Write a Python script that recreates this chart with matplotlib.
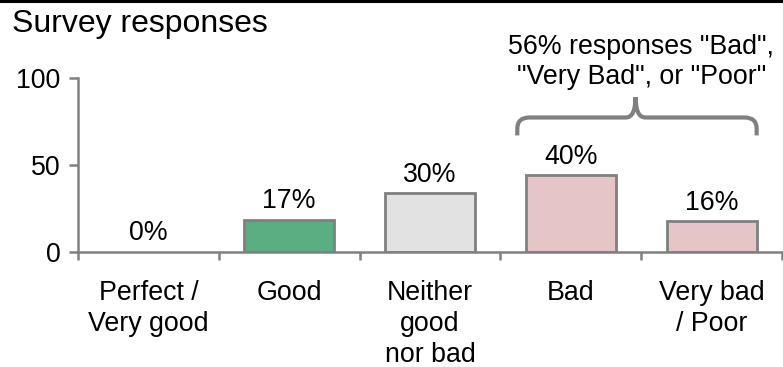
import numpy as np
import matplotlib
matplotlib.use('Agg')
import matplotlib.pyplot as plt
from matplotlib.path import Path
from matplotlib.patches import PathPatch
from matplotlib.lines import Line2D

plt.rcParams['font.family'] = ['Liberation Sans', 'DejaVu Sans']

# datos
categorias = ['Perfect /\nVery good', 'Good', 'Neither\ngood\nnor bad', 'Bad', 'Very bad\n/ Poor']
alturas = [0, 18.6, 33.7, 44.2, 17.6]
etiquetas = ['0%', '17%', '30%', '40%', '16%']
colores = ['#e2e2e2', '#5aae82', '#e2e2e2', '#e6c5c7', '#e6c5c7']
nota = '56% responses "Bad",\n"Very Bad", or "Poor"'
titulo = 'Survey responses'

gris = '#808080'
W, H = 783, 367
fs = 19.3

fig = plt.figure(figsize=(W/100, H/100), dpi=100)
ax = fig.add_axes([78/W, 1-252/H, (782-78)/W, (252-78)/H])

x = np.arange(len(categorias))
bordes = [2 if h > 0 else 0 for h in alturas]
barras = ax.bar(x, alturas, width=0.64, color=colores, edgecolor=gris, linewidth=bordes, zorder=2)
for xi, h, et in zip(x, alturas, etiquetas):
    ax.annotate(et, (xi, h), xytext=(0, 4), textcoords='offset points',
                ha='center', va='bottom', fontsize=fs)

ax.set_xlim(-0.5, 4.5)
ax.set_ylim(0, 100)
ax.set_yticks([0, 50, 100])
ax.tick_params(axis='y', length=6.5, width=1.8, color=gris, pad=6, labelsize=fs, direction='out')
ax.set_xticks(x)
ax.set_xticklabels(categorias, fontsize=fs, linespacing=1.25)
ax.tick_params(axis='x', which='major', length=0, pad=20)
ax.set_xticks(np.arange(-0.5, 5, 1), minor=True)
ax.tick_params(axis='x', which='minor', length=6, width=1.8, color=gris, direction='out')
for s in ['top', 'right']:
    ax.spines[s].set_visible(False)
for s in ['left', 'bottom']:
    ax.spines[s].set_color(gris)
    ax.spines[s].set_linewidth(1.8)

# llave sobre Bad / Very bad
L, R, M = 2.62, 4.32, 3.46
yb, yh, yt = 67, 77.3, 89
verts = [(L, yb), (L, yh-6.5), (L, yh), (L+0.085, yh), (M-0.07, yh), (M, yh), (M, yt),
         (M, yt), (M, yh), (M+0.07, yh), (R-0.085, yh), (R, yh), (R, yh-6.5), (R, yb)]
codes = [Path.MOVETO, Path.LINETO, Path.CURVE3, Path.CURVE3, Path.LINETO, Path.CURVE3, Path.CURVE3,
         Path.MOVETO, Path.CURVE3, Path.CURVE3, Path.LINETO, Path.CURVE3, Path.CURVE3, Path.LINETO]
ax.add_patch(PathPatch(Path(verts, codes), fill=False, edgecolor=gris, lw=3, clip_on=False, capstyle='butt'))
ax.text(3.5, 109, nota, ha='center', va='center', fontsize=fs, linespacing=1.2, clip_on=False)

fig.text(12/W, 1-32/H, titulo, fontsize=23, ha='left', va='baseline')
fig.add_artist(Line2D([0, 1], [1-1.2/H, 1-1.2/H], transform=fig.transFigure, color='black', lw=2.2))

fig.savefig('out.png', dpi=100)
